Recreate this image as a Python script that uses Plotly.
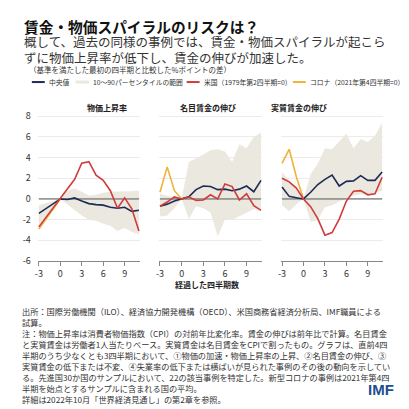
import plotly.graph_objects as go

# ---------- DATA ----------

quarters = list(range(-3, 12))
covid_quarters = [-3, -2, -1, 0]

# 物価上昇率
infl_median = [-1.4, -0.95, -0.5, 0.0, -0.05, 0.1, -0.2, -0.45, -0.55, -0.6, -0.8, -0.9, -0.8, -1.2, -1.1]
infl_p90 = [-0.6, -0.4, -0.2, 0.0, 0.8, 1.0, 0.7, 0.3, 0.4, 0.6, 0.7, 0.7, 0.75, 0.75, 0.8]
infl_p10 = [-2.6, -1.8, -0.9, 0.0, -0.5, -1.1, -1.6, -2.0, -2.1, -2.4, -2.6, -3.1, -2.8, -3.2, -3.4]
infl_us = [-2.7, -1.8, -0.9, 0.0, 1.0, 1.9, 3.45, 3.6, 2.3, 1.8, 0.8, -0.9, 0.1, -0.95, -3.1]
infl_covid = [-2.9, -1.95, -0.95, 0.0]

# 名目賃金の伸び
nom_median = [-0.7, -0.5, -0.2, 0.0, 0.2, 0.9, 1.25, 1.2, 0.9, 0.95, 0.8, 0.95, 1.25, 0.7, 1.8]
nom_p90 = [0.5, 0.3, 0.2, 0.0, 3.6, 3.9, 4.3, 4.7, 4.8, 4.6, 3.6, 5.3, 4.9, 6.0, 6.4]
nom_p10 = [-1.7, -1.6, -0.9, 0.0, -1.95, -0.7, -0.9, -1.3, -3.6, -2.0, -2.0, -1.65, -1.3, -1.0, -1.0]
nom_us = [-0.7, -0.3, 0.2, 0.0, 0.2, -0.15, -0.1, 0.4, 0.0, 1.45, 1.2, -0.1, 0.5, -0.65, -1.1]
nom_covid = [0.65, 3.1, 0.8, 0.0]

# 実質賃金の伸び
real_median = [1.15, 0.25, 0.12, 0.0, 0.65, 1.4, 1.9, 2.3, 1.25, 1.7, 1.75, 2.25, 1.8, 1.8, 2.6]
real_p90 = [2.6, 1.8, 0.9, 0.0, 2.4, 3.4, 4.9, 4.8, 5.5, 6.3, 4.9, 5.8, 5.5, 6.1, 7.4]
real_p10 = [-0.6, -1.2, -0.5, 0.0, -2.2, -2.05, -0.8, -0.6, -0.25, 0.0, 0.3, 0.45, 0.45, 0.6, 0.8]
real_us = [2.0, 1.65, 1.05, 0.0, -0.75, -1.9, -3.5, -3.25, -1.95, -0.2, 0.75, 0.8, 0.4, 0.5, 2.1]
real_covid = [3.45, 4.8, 2.15, 0.0]

panel_titles = ["物価上昇率", "名目賃金の伸び", "実質賃金の伸び"]
x_ticks = [-3, 0, 3, 6, 9]
x_tick_text = ["-3", "0", "3", "6", "9"]
y_ticks = [-6, -4, -2, 0, 2, 4, 6, 8]
y_tick_text = ["-6", "-4", "-2", "0", "2", "4", "6", "8"]

subtitle = [
    "概して、過去の同様の事例では、賃金・物価スパイラルが起こら",
    "ずに物価上昇率が低下し、賃金の伸びが加速した。",
]
unit_note = "（基準を満たした最初の四半期と比較した%ポイントの差）"

notes = [
    "出所：国際労働機関（ILO）、経済協力開発機構（OECD）、米国商務省経済分析局、IMF職員による",
    "試算。",
    "注：物価上昇率は消費者物価指数（CPI）の対前年比変化率。賃金の伸びは前年比で計算。名目賃金",
    "と実質賃金は労働者1人当たりベース。実質賃金は名目賃金をCPIで割ったもの。グラフは、直前4四",
    "半期のうち少なくとも3四半期において、①物価の加速・物価上昇率の上昇、②名目賃金の伸び、③",
    "実質賃金の低下または不変、④失業率の低下または横ばいが見られた事例のその後の動向を示してい",
    "る。先進国30か国のサンプルにおいて、22の該当事例を特定した。新型コロナの事例は2021年第4四",
    "半期を始点とするサンプルに含まれる国の平均。",
    "詳細は2022年10月「世界経済見通し」の第2章を参照。",
]

# ---------- STYLE ----------

# the page body has an 8px margin, so the figure starts at (8, 8) in the window
OFF = 8
W = H = 401
FONT = "Noto Sans CJK JP"
NAVY = "#1d2b55"
RED = "#d03b3b"
ORANGE = "#f0b23a"
BAND = "#ebe8df"
TEXT = "#333333"


def px(x):
    return (x - OFF) / W


def py(y):
    return 1 - (y - OFF) / H


def span(t, size):
    return f'<span style="font-size:{size}px">{t}</span>'


panels = [
    (infl_median, infl_p10, infl_p90, infl_us, infl_covid),
    (nom_median, nom_p10, nom_p90, nom_us, nom_covid),
    (real_median, real_p10, real_p90, real_us, real_covid),
]
domains = [(35, 138), (157, 261), (280, 383)]
title_centers = [83, 206, 328]

fig = go.Figure()

for i, (med, p10, p90, us, covid) in enumerate(panels):
    xa = "x" if i == 0 else f"x{i + 1}"
    ya = "y" if i == 0 else f"y{i + 1}"

    fig.add_scatter(x=quarters, y=p10, mode="lines", line=dict(width=0),
                    xaxis=xa, yaxis=ya, showlegend=False, hoverinfo="skip")
    fig.add_scatter(x=quarters, y=p90, mode="lines", line=dict(width=0),
                    fill="tonexty", fillcolor=BAND,
                    xaxis=xa, yaxis=ya, showlegend=False, hoverinfo="skip")

    # zero line across the data range
    fig.add_scatter(x=quarters, y=[0] * len(quarters), mode="lines",
                    line=dict(color="#555555", width=1),
                    xaxis=xa, yaxis=ya, showlegend=False, hoverinfo="skip")

    fig.add_scatter(x=quarters, y=med, mode="lines", line=dict(color=NAVY, width=1.6),
                    xaxis=xa, yaxis=ya, showlegend=False)
    fig.add_scatter(x=covid_quarters, y=covid, mode="lines", line=dict(color=ORANGE, width=1.6),
                    xaxis=xa, yaxis=ya, showlegend=False)
    fig.add_scatter(x=quarters, y=us, mode="lines", line=dict(color=RED, width=1.6),
                    xaxis=xa, yaxis=ya, showlegend=False)

    x0, x1 = domains[i]
    xkey = "xaxis" if i == 0 else f"xaxis{i + 1}"
    ykey = "yaxis" if i == 0 else f"yaxis{i + 1}"
    fig.update_layout({
        xkey: dict(
            domain=[px(x0), px(x1)], anchor=ya, range=[-3.15, 11.15],
            tickvals=x_ticks, ticktext=x_tick_text,
            showline=True, linecolor="#888888", linewidth=1,
            ticks="outside", ticklen=4, tickcolor="#888888",
            showgrid=False, zeroline=False,
            tickfont=dict(family=FONT, size=9, color=TEXT),
        ),
        ykey: dict(
            domain=[py(263), py(112)], anchor=xa, range=[-6, 8.2],
            tickvals=y_ticks, ticktext=y_tick_text,
            showticklabels=(i == 0), ticklabelstandoff=6,
            showgrid=True, gridcolor="#ebebeb", gridwidth=1,
            zeroline=False, showline=False,
            tickfont=dict(family=FONT, size=9, color=TEXT),
        ),
    })

    fig.add_annotation(text=f"<b>{panel_titles[i]}</b>", x=px(title_centers[i]), y=py(97),
                       xref="paper", yref="paper", showarrow=False,
                       font=dict(family=FONT, size=8, color="#222222"))

# ---------- TEXT ----------

ann = dict(xref="paper", yref="paper", showarrow=False, xanchor="left", yanchor="middle")
top = dict(xref="paper", yref="paper", showarrow=False, xanchor="left", yanchor="top", align="left")

fig.add_annotation(text="<b>賃金・物価スパイラルのリスクは？</b>", x=px(19), y=py(21.5),
                   font=dict(family=FONT, size=14.7, color="#111111"), **ann)
fig.add_annotation(text="<br>".join(subtitle), x=px(19), y=py(45.5), align="left",
                   font=dict(family=FONT, size=12.5, color=TEXT), **ann)
fig.add_annotation(text=unit_note, x=px(24), y=py(66.5),
                   font=dict(family=FONT, size=7.5, color=TEXT), **ann)

# legend
legend_y = 79
LEG = 6.8
fig.add_shape(type="line", xref="paper", yref="paper", x0=px(29), x1=px(42),
              y0=py(legend_y), y1=py(legend_y), line=dict(color=NAVY, width=2))
fig.add_annotation(text="中央値", x=px(44), y=py(legend_y),
                   font=dict(family=FONT, size=LEG, color=TEXT), **ann)
fig.add_shape(type="line", xref="paper", yref="paper", x0=px(73), x1=px(87),
              y0=py(legend_y), y1=py(legend_y), line=dict(color=BAND, width=3))
fig.add_annotation(text="10～90パーセンタイルの範囲", x=px(89), y=py(legend_y),
                   font=dict(family=FONT, size=LEG, color=TEXT), **ann)
fig.add_shape(type="line", xref="paper", yref="paper", x0=px(185), x1=px(198),
              y0=py(legend_y), y1=py(legend_y), line=dict(color=RED, width=2))
fig.add_annotation(text="米国（1979年第2四半期=0）", x=px(200), y=py(legend_y),
                   font=dict(family=FONT, size=LEG, color=TEXT), **ann)
fig.add_shape(type="line", xref="paper", yref="paper", x0=px(292), x1=px(305),
              y0=py(legend_y), y1=py(legend_y), line=dict(color=ORANGE, width=2))
fig.add_annotation(text="コロナ（2021年第4四半期=0）", x=px(307), y=py(legend_y),
                   font=dict(family=FONT, size=LEG, color=TEXT), **ann)

fig.add_annotation(text="<b>経過した四半期数</b>", x=px(205), y=py(294.5),
                   xref="paper", yref="paper", showarrow=False,
                   font=dict(family=FONT, size=8, color="#222222"))

# notes: the first seven lines, then the two short ones beside the logo
# (plotly spaces <br> lines at 1.3 em of the annotation font, so the glyph size sits on a span)
notes_a = "<br>".join(span(t, 8.2) for t in notes[:7])
fig.add_annotation(text=notes_a, x=px(17), y=py(306.5),
                   font=dict(family=FONT, size=11 / 1.3, color=TEXT), **top)
notes_b = "<br>".join(span(t, 8.2) for t in notes[7:])
fig.add_annotation(text=notes_b, x=px(17), y=py(385.5),
                   font=dict(family=FONT, size=11 / 1.3, color=TEXT), **top)

fig.add_annotation(text="<b>IMF</b>", x=px(396), y=py(395), xref="paper", yref="paper",
                   showarrow=False, xanchor="right", yanchor="middle",
                   font=dict(family="Liberation Sans", size=15, color="#1c4f8f"))

fig.update_layout(
    width=W, height=H, autosize=False,
    margin=dict(l=0, r=0, t=0, b=0),
    paper_bgcolor="white", plot_bgcolor="white",
    showlegend=False,
)

fig.write_html("out.html")
